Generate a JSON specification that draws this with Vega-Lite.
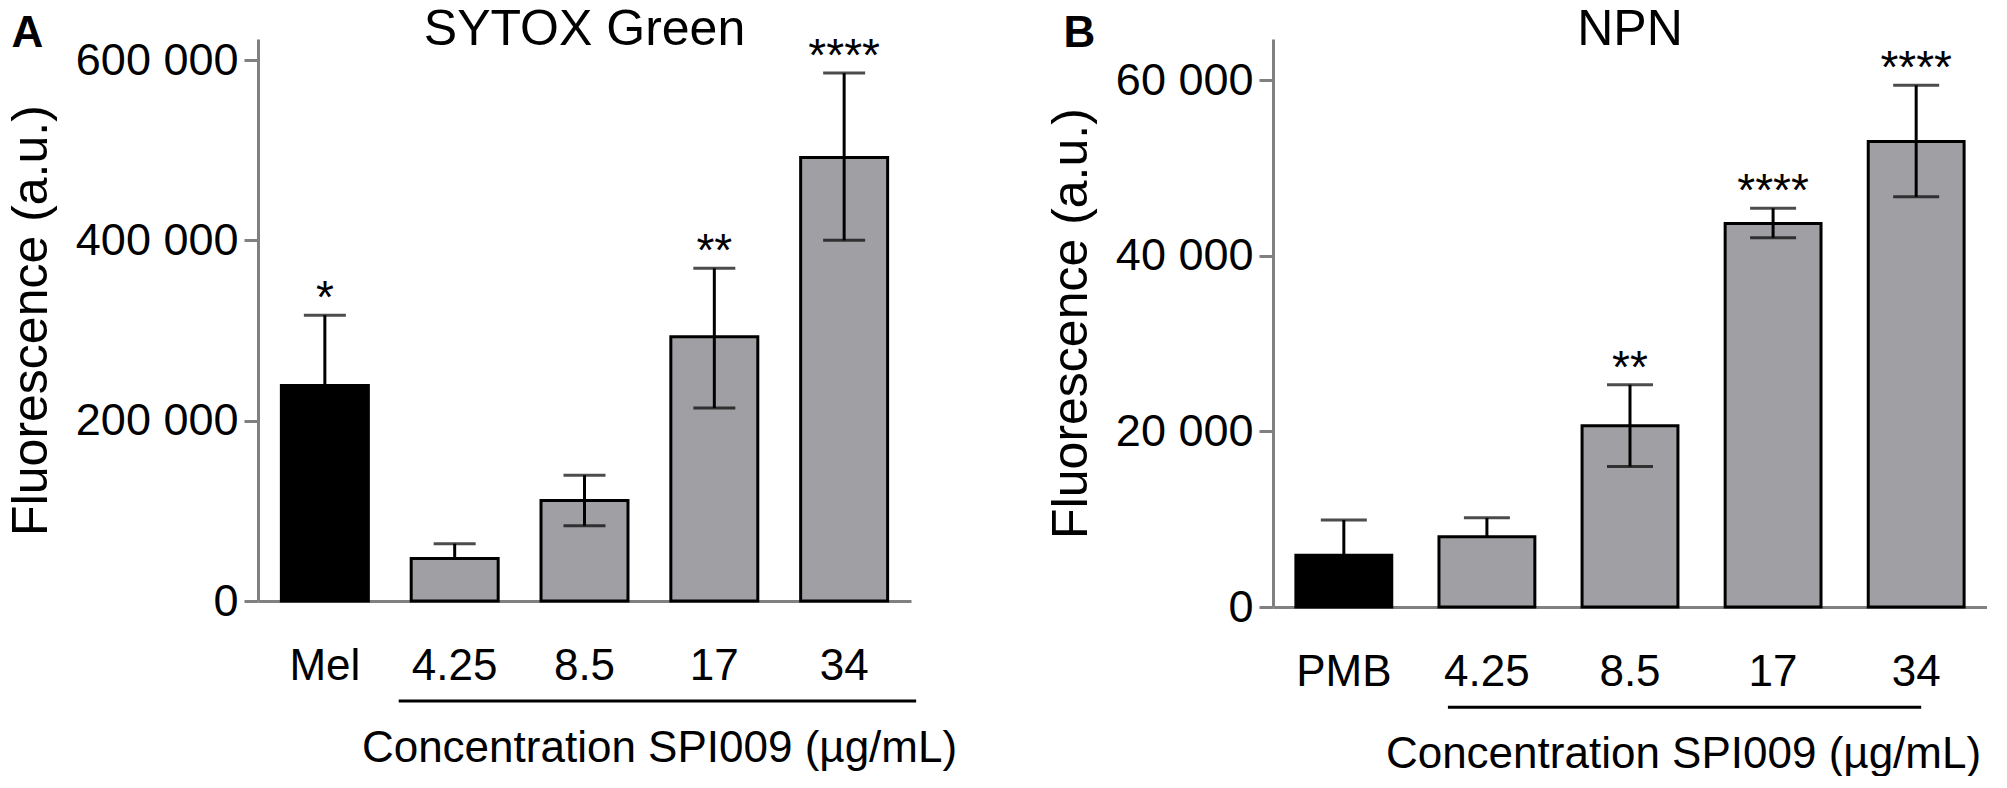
{
  "$schema": "https://vega.github.io/schema/vega-lite/v6.json",
  "padding": {"left": 6, "top": 5, "right": 0, "bottom": 0},
  "background": "white",
  "config": {
    "font": "Liberation Sans",
    "view": {"stroke": null},
    "locale": {"number": {"decimal": ".", "thousands": " ", "grouping": [3], "currency": ["", ""]}},
    "title": {"fontSize": 50, "fontWeight": "normal", "color": "black"},
    "axis": {"labelColor": "black", "titleColor": "black", "grid": false, "domainColor": "#808080", "domainWidth": 3, "tickColor": "#808080", "tickWidth": 3}
  },
  "spacing": 89,
  "datasets": {
    "sytox": [
      {"group": "Mel", "kind": "control", "mean": 239000, "lo": null, "hi": 317000, "sig": "*"},
      {"group": "4.25", "kind": "SPI009", "mean": 47000, "lo": null, "hi": 63500, "sig": ""},
      {"group": "8.5", "kind": "SPI009", "mean": 111500, "lo": 83500, "hi": 139500, "sig": ""},
      {"group": "17", "kind": "SPI009", "mean": 293000, "lo": 214000, "hi": 369000, "sig": "**"},
      {"group": "34", "kind": "SPI009", "mean": 492000, "lo": 400000, "hi": 585500, "sig": "****"}
    ],
    "npn": [
      {"group": "PMB", "kind": "control", "mean": 5900, "lo": null, "hi": 9900, "sig": ""},
      {"group": "4.25", "kind": "SPI009", "mean": 8000, "lo": null, "hi": 10150, "sig": ""},
      {"group": "8.5", "kind": "SPI009", "mean": 20650, "lo": 16000, "hi": 25300, "sig": "**"},
      {"group": "17", "kind": "SPI009", "mean": 43650, "lo": 42050, "hi": 45400, "sig": "****"},
      {"group": "34", "kind": "SPI009", "mean": 53000, "lo": 46700, "hi": 59400, "sig": "****"}
    ],
    "bracketA": [{"from": "4.25", "to": "34", "level": -110900}],
    "bracketB": [{"from": "4.25", "to": "34", "level": -11400}]
  },
  "hconcat": [
    {
      "width": 653,
      "height": 562,
      "title": {"text": "SYTOX Green", "anchor": "middle", "frame": "group", "offset": -44},
      "resolve": {"axis": {"x": "independent"}},
      "layer": [
        {
          "data": {"name": "sytox"},
          "mark": {"type": "bar", "stroke": "black", "strokeWidth": 3},
          "encoding": {
            "x": {"field": "group", "type": "nominal", "sort": null,
              "scale": {"domain": ["Mel", "4.25", "8.5", "17", "34"], "paddingInner": 0.33, "paddingOuter": 0.18},
              "axis": {"title": "Concentration SPI009 (µg/mL)", "titleFontSize": 44, "titleFontWeight": "normal", "titleX": 401, "titlePadding": 38, "labelFontSize": 44, "labelPadding": 43, "ticks": false, "labelAngle": 0}},
            "y": {"field": "mean", "type": "quantitative", "title": "Fluorescence (a.u.)",
              "scale": {"domain": [0, 623300], "nice": false},
              "axis": {"values": [0, 200000, 400000, 600000], "format": ",d", "labelFontSize": 45, "labelPadding": 6, "tickSize": 14, "titleFontSize": 50, "titleFontWeight": "normal", "titlePadding": 19}},
            "color": {"field": "kind", "type": "nominal", "scale": {"domain": ["control", "SPI009"], "range": ["#000000", "#a0a0a4"]}, "legend": null}
          }
        },
        {
          "data": {"name": "sytox"},
          "mark": {"type": "rule", "color": "black", "strokeWidth": 3},
          "encoding": {
            "x": {"field": "group", "type": "nominal", "axis": null},
            "y": {"field": "hi", "type": "quantitative", "title": "Fluorescence (a.u.)"},
            "y2": {"field": "mean"}
          }
        },
        {
          "data": {"name": "sytox"},
          "transform": [{"filter": "datum.lo != null"}],
          "mark": {"type": "rule", "color": "black", "strokeWidth": 3},
          "encoding": {
            "x": {"field": "group", "type": "nominal", "axis": null},
            "y": {"field": "lo", "type": "quantitative", "title": "Fluorescence (a.u.)"},
            "y2": {"field": "mean"}
          }
        },
        {
          "data": {"name": "sytox"},
          "mark": {"type": "tick", "color": "black", "thickness": 3, "size": 42},
          "encoding": {
            "x": {"field": "group", "type": "nominal", "axis": null},
            "y": {"field": "hi", "type": "quantitative", "title": "Fluorescence (a.u.)"}
          }
        },
        {
          "data": {"name": "sytox"},
          "transform": [{"filter": "datum.lo != null"}],
          "mark": {"type": "tick", "color": "black", "thickness": 3, "size": 42},
          "encoding": {
            "x": {"field": "group", "type": "nominal", "axis": null},
            "y": {"field": "lo", "type": "quantitative", "title": "Fluorescence (a.u.)"}
          }
        },
        {
          "data": {"name": "sytox"},
          "mark": {"type": "text", "fontSize": 46, "baseline": "alphabetic", "align": "center", "dy": -2, "color": "black"},
          "encoding": {
            "x": {"field": "group", "type": "nominal",
              "axis": {"orient": "top", "title": "A", "labels": false, "ticks": false, "domain": false, "titleFontSize": 44, "titleFontWeight": "bold", "titleAlign": "left", "titleBaseline": "alphabetic", "titleX": -247, "titleY": 7}},
            "y": {"field": "hi", "type": "quantitative", "title": "Fluorescence (a.u.)"},
            "text": {"field": "sig"}
          }
        },
        {
          "data": {"name": "bracketA"},
          "mark": {"type": "rule", "color": "black", "strokeWidth": 3, "xOffset": -56, "x2Offset": 72},
          "encoding": {
            "x": {"field": "from", "type": "nominal", "axis": null},
            "x2": {"field": "to"},
            "y": {"field": "level", "type": "quantitative", "title": "Fluorescence (a.u.)"}
          }
        }
      ]
    },
    {
      "width": 714,
      "height": 568,
      "title": {"text": "NPN", "anchor": "middle", "frame": "group", "offset": -44},
      "resolve": {"axis": {"x": "independent"}},
      "layer": [
        {
          "data": {"name": "npn"},
          "mark": {"type": "bar", "stroke": "black", "strokeWidth": 3},
          "encoding": {
            "x": {"field": "group", "type": "nominal", "sort": null,
              "scale": {"domain": ["PMB", "4.25", "8.5", "17", "34"], "paddingInner": 0.33, "paddingOuter": 0.16},
              "axis": {"title": "Concentration SPI009 (µg/mL)", "titleFontSize": 44, "titleFontWeight": "normal", "titleX": 410, "titlePadding": 38, "labelFontSize": 44, "labelPadding": 43, "ticks": false, "labelAngle": 0}},
            "y": {"field": "mean", "type": "quantitative", "title": "Fluorescence (a.u.)",
              "scale": {"domain": [0, 64670], "nice": false},
              "axis": {"values": [0, 20000, 40000, 60000], "format": ",d", "labelFontSize": 45, "labelPadding": 6, "tickSize": 14, "titleFontSize": 50, "titleFontWeight": "normal", "titlePadding": 19}},
            "color": {"field": "kind", "type": "nominal", "scale": {"domain": ["control", "SPI009"], "range": ["#000000", "#a0a0a4"]}, "legend": null}
          }
        },
        {
          "data": {"name": "npn"},
          "mark": {"type": "rule", "color": "black", "strokeWidth": 3},
          "encoding": {
            "x": {"field": "group", "type": "nominal", "axis": null},
            "y": {"field": "hi", "type": "quantitative", "title": "Fluorescence (a.u.)"},
            "y2": {"field": "mean"}
          }
        },
        {
          "data": {"name": "npn"},
          "transform": [{"filter": "datum.lo != null"}],
          "mark": {"type": "rule", "color": "black", "strokeWidth": 3},
          "encoding": {
            "x": {"field": "group", "type": "nominal", "axis": null},
            "y": {"field": "lo", "type": "quantitative", "title": "Fluorescence (a.u.)"},
            "y2": {"field": "mean"}
          }
        },
        {
          "data": {"name": "npn"},
          "mark": {"type": "tick", "color": "black", "thickness": 3, "size": 46},
          "encoding": {
            "x": {"field": "group", "type": "nominal", "axis": null},
            "y": {"field": "hi", "type": "quantitative", "title": "Fluorescence (a.u.)"}
          }
        },
        {
          "data": {"name": "npn"},
          "transform": [{"filter": "datum.lo != null"}],
          "mark": {"type": "tick", "color": "black", "thickness": 3, "size": 46},
          "encoding": {
            "x": {"field": "group", "type": "nominal", "axis": null},
            "y": {"field": "lo", "type": "quantitative", "title": "Fluorescence (a.u.)"}
          }
        },
        {
          "data": {"name": "npn"},
          "mark": {"type": "text", "fontSize": 46, "baseline": "alphabetic", "align": "center", "dy": -2, "color": "black"},
          "encoding": {
            "x": {"field": "group", "type": "nominal",
              "axis": {"orient": "top", "title": "B", "labels": false, "ticks": false, "domain": false, "titleFontSize": 44, "titleFontWeight": "bold", "titleAlign": "left", "titleBaseline": "alphabetic", "titleX": -210, "titleY": 7}},
            "y": {"field": "hi", "type": "quantitative", "title": "Fluorescence (a.u.)"},
            "text": {"field": "sig"}
          }
        },
        {
          "data": {"name": "bracketB"},
          "mark": {"type": "rule", "color": "black", "strokeWidth": 3, "xOffset": -39, "x2Offset": 5},
          "encoding": {
            "x": {"field": "from", "type": "nominal", "axis": null},
            "x2": {"field": "to"},
            "y": {"field": "level", "type": "quantitative", "title": "Fluorescence (a.u.)"}
          }
        }
      ]
    }
  ]
}
